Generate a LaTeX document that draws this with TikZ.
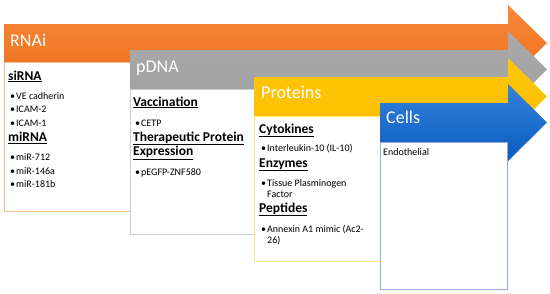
\documentclass[tikz,border=0pt]{standalone}
\usepackage{fontspec}
\setmainfont{Carlito}
\begin{document}
\begin{tikzpicture}[x=1pt,y=-1pt,
  ttl/.style={anchor=base west,inner sep=0pt,text=white,font=\fontsize{18}{20}\selectfont},
  hd/.style={anchor=base west,inner sep=0pt,font=\fontsize{13.5}{15}\selectfont\bfseries},
  itm/.style={anchor=base west,inner sep=0pt,font=\fontsize{10}{11.5}\selectfont},
  bul/.style={anchor=base west,inner sep=0pt,font=\fontsize{10}{11.5}\selectfont},
  panel/.style={fill=white,line width=0.8pt}]
\useasboundingbox (0,0) rectangle (550,293);
\definecolor{orA}{HTML}{F8893A}\definecolor{orB}{HTML}{EE6F1C}
\definecolor{grA}{HTML}{ABABAB}\definecolor{grB}{HTML}{9E9E9E}
\definecolor{yeA}{HTML}{FFC608}\definecolor{yeB}{HTML}{FDBE00}
\definecolor{blA}{HTML}{3482DA}\definecolor{blB}{HTML}{0A5BC0}
\definecolor{orL}{HTML}{F4C08F}\definecolor{grL}{HTML}{CFCFCF}
\definecolor{yeL}{HTML}{FFE680}\definecolor{blL}{HTML}{93A9E0}
% RNAi
\shade[top color=orA,bottom color=orB] (4,24) -- (508,24) -- (508,5) -- (547,43) -- (508,81) -- (508,62) -- (4,62) -- cycle;
\draw[panel,draw=orL] (4,62) rectangle (131,211);
\node[ttl] (t1) at (10,46) {RNAi};
\node[hd] (h11) at (8,80) {\underline{siRNA}};
\node[bul] (b11) at (10,99) {\textbullet}; \node[itm] (i11) at (16,99) {VE cadherin};
\node[bul] (b12) at (10,112.5) {\textbullet}; \node[itm] (i12) at (16,112.5) {ICAM-2};
\node[bul] (b13) at (10,126) {\textbullet}; \node[itm] (i13) at (16,126) {ICAM-1};
\node[hd] (h12) at (8,141.5) {\underline{miRNA}};
\node[bul] (b14) at (10,160.5) {\textbullet}; \node[itm] (i14) at (16,160.5) {miR-712};
\node[bul] (b15) at (10,174) {\textbullet}; \node[itm] (i15) at (16,174) {miR-146a};
\node[bul] (b16) at (10,187.5) {\textbullet}; \node[itm] (i16) at (16,187.5) {miR-181b};
% pDNA
\shade[top color=grA,bottom color=grB] (130,50) -- (508,50) -- (508,31) -- (547,69.5) -- (508,108) -- (508,89) -- (130,89) -- cycle;
\draw[panel,draw=grL] (130,89) rectangle (256,234);
\node[ttl] (t2) at (136,72) {pDNA};
\node[hd] (h21) at (133,106) {\underline{Vaccination}};
\node[bul] (b21) at (135,126) {\textbullet}; \node[itm] (i21) at (141,126) {CETP};
\node[hd] (h22) at (133,141) {\underline{Therapeutic Protein}};
\node[hd] (h23) at (133,155.5) {\underline{Expression}};
\node[bul] (b22) at (135,175) {\textbullet}; \node[itm] (i22) at (141,175) {pEGFP-ZNF580};
% Proteins
\shade[top color=yeA,bottom color=yeB] (254,77) -- (508,77) -- (508,58) -- (547,96.5) -- (508,135) -- (508,116) -- (254,116) -- cycle;
\draw[panel,draw=yeL] (254,116) rectangle (381,261);
\node[ttl] (t3) at (261,98) {Proteins};
\node[hd] (h31) at (259,133) {\underline{Cytokines}};
\node[bul] (b31) at (261,151.5) {\textbullet}; \node[itm] (i31) at (267,151.5) {Interleukin-10 (IL-10)};
\node[hd] (h32) at (259,167) {\underline{Enzymes}};
\node[bul] (b32) at (261,186) {\textbullet}; \node[itm] (i32) at (267,186) {Tissue Plasminogen};
\node[itm] (i32b) at (267,197.5) {Factor};
\node[hd] (h33) at (259,212) {\underline{Peptides}};
\node[bul] (b33) at (261,232) {\textbullet}; \node[itm] (i33) at (267,232) {Annexin A1 mimic (Ac2-};
\node[itm] (i33b) at (267,243.5) {26)};
% Cells
\shade[top color=blA,bottom color=blB] (380,103) -- (508,103) -- (508,84) -- (547,122.5) -- (508,161) -- (508,142) -- (380,142) -- cycle;
\draw[panel,draw=blL] (380,142) rectangle (507,289);
\node[ttl] (t4) at (386,123) {Cells};
\node[itm] (i41) at (383,155.5) {Endothelial};
\end{tikzpicture}
\end{document}
